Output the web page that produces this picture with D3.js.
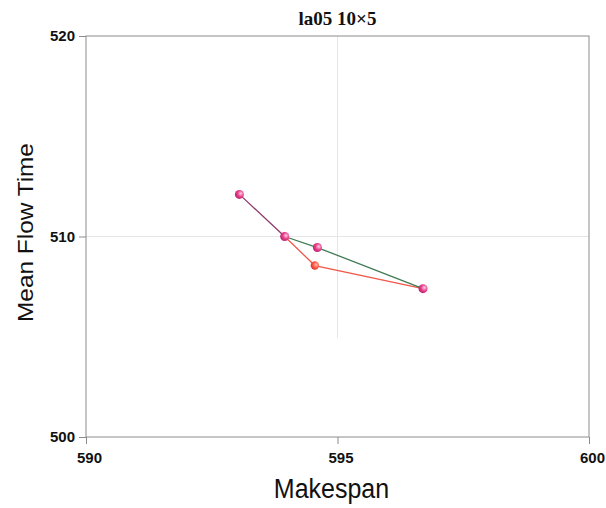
<!DOCTYPE html>
<html><head><meta charset="utf-8">
<script src="https://cdn.jsdelivr.net/npm/d3@7"></script>
<style>body{margin:0;background:#fff}</style>
</head><body>
<svg id="c" width="606" height="508"></svg>
<script>
const title = "la05 10×5";
const xLabel = "Makespan";
const yLabel = "Mean Flow Time";
const xTicks = [590, 595, 600];
const yTicks = [500, 510, 520];
// series: [makespan, mean flow time]
const seriesA = [[593.05, 512.1], [593.95, 510.0]];
const seriesGreen = [[593.95, 510.0], [594.6, 509.45], [596.7, 507.4]];
const seriesRed = [[593.95, 510.0], [594.55, 508.55], [596.7, 507.4]];
const pinkPoints = [[593.05, 512.1], [593.95, 510.0], [594.6, 509.45], [596.7, 507.4]];
const redPoints = [[594.55, 508.55]];

const svg = d3.select("#c");
const L = 86, R = 589, T = 36, B = 437;
const x = d3.scaleLinear().domain([590, 600]).range([L, R]);
const y = d3.scaleLinear().domain([500, 520]).range([B, T]);

const defs = svg.append("defs");
function grad(id, c0, c1, c2) {
  const g = defs.append("radialGradient").attr("id", id).attr("cx", "0.65").attr("cy", "0.4").attr("r", "0.7");
  g.append("stop").attr("offset", "0").attr("stop-color", c0);
  g.append("stop").attr("offset", "0.5").attr("stop-color", c1);
  g.append("stop").attr("offset", "1").attr("stop-color", c2);
}
grad("gp", "#ffd0e4", "#e8408a", "#b0206a");
grad("gr", "#ffc0b0", "#ff5a45", "#d03020");

// grid
svg.append("line").attr("x1", L).attr("x2", R).attr("y1", y(510)).attr("y2", y(510))
  .attr("stroke", "#e6e6e6").attr("stroke-width", 1);
svg.append("line").attr("x1", x(595)).attr("x2", x(595)).attr("y1", T).attr("y2", 338)
  .attr("stroke", "#e6e6e6").attr("stroke-width", 1);

// frame
svg.append("rect").attr("x", L).attr("y", T).attr("width", R - L).attr("height", B - T)
  .attr("fill", "none").attr("stroke", "#8c8c8c").attr("stroke-width", 1);

// axes
const xAxis = d3.axisBottom(x).tickValues(xTicks).tickSize(7).tickPadding(8).tickFormat(d3.format("d"));
const yAxis = d3.axisLeft(y).tickValues(yTicks).tickSize(7).tickPadding(4).tickFormat(d3.format("d"));
const gx = svg.append("g").attr("transform", `translate(0,${B})`).call(xAxis);
const gy = svg.append("g").attr("transform", `translate(${L},0)`).call(yAxis);
[gx, gy].forEach(g => {
  g.select(".domain").remove();
  g.selectAll(".tick line").attr("stroke", "#8c8c8c");
  g.selectAll(".tick text").attr("font-family", "Liberation Sans, Arial, sans-serif")
    .attr("font-weight", "bold").attr("font-size", 15).attr("fill", "#111");
});
gx.selectAll(".tick text").attr("dx", 3);

// lines
const line = d3.line().x(d => x(d[0])).y(d => y(d[1]));
svg.append("path").datum(seriesRed).attr("d", line).attr("fill", "none").attr("stroke", "#f0584a").attr("stroke-width", 1.3);
svg.append("path").datum(seriesGreen).attr("d", line).attr("fill", "none").attr("stroke", "#3f7a52").attr("stroke-width", 1.3);
svg.append("path").datum(seriesA).attr("d", line).attr("fill", "none").attr("stroke", "#8c3a6a").attr("stroke-width", 1.3);

// points
svg.selectAll("circle.p").data(pinkPoints).enter().append("circle").attr("class", "p")
  .attr("cx", d => x(d[0])).attr("cy", d => y(d[1])).attr("r", 4.5).attr("fill", "url(#gp)");
svg.selectAll("circle.r").data(redPoints).enter().append("circle").attr("class", "r")
  .attr("cx", d => x(d[0])).attr("cy", d => y(d[1])).attr("r", 4.2).attr("fill", "url(#gr)");

// texts
svg.append("text").attr("x", x(595)).attr("y", 25).attr("text-anchor", "middle")
  .attr("font-family", "Liberation Serif, Times New Roman, serif").attr("font-weight", "bold")
  .attr("font-size", 19).attr("fill", "#111").text(title);
svg.append("text").attr("transform", `translate(${x(595) - 6},498) scale(1,1.08)`).attr("text-anchor", "middle")
  .attr("font-family", "Liberation Sans, Arial, sans-serif").attr("font-size", 25).attr("fill", "#111").text(xLabel);
svg.append("text").attr("transform", `translate(33,${y(510) - 4}) rotate(-90) scale(1,0.88)`).attr("text-anchor", "middle")
  .attr("font-family", "Liberation Sans, Arial, sans-serif").attr("font-size", 24.4).attr("fill", "#111").text(yLabel);
</script>
</body></html>
